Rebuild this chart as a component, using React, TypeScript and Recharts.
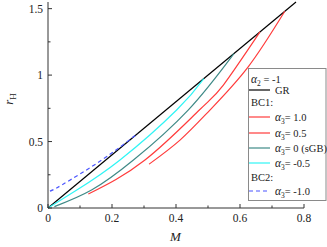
import React from "react";
import { LineChart, Line, XAxis, YAxis } from "recharts";

// GR: r_H = 2M
const grM = [0, 0.775];
const grR = [0, 1.55];

// BC1, alpha3 = 1.0 (outer red)
const a3p10M = [0.316, 0.4125, 0.506, 0.625, 0.74];
const a3p10R = [0.33, 0.511, 0.737, 1.06, 1.48];

// BC1, alpha3 = 0.5 (inner red)
const a3p05M = [0.126, 0.303, 0.473, 0.548, 0.6625];
const a3p05R = [0.105, 0.361, 0.737, 0.925, 1.325];

// BC1, alpha3 = 0 (sGB)
const a3z0M = [0.02, 0.136, 0.267, 0.438, 0.581];
const a3z0R = [0.01, 0.135, 0.361, 0.737, 1.162];

// BC1, alpha3 = -0.5
const a3m05M = [0, 0.09, 0.225, 0.402, 0.487];
const a3m05R = [0, 0.135, 0.361, 0.737, 0.974];

// BC2, alpha3 = -1.0
const bc2M = [0.006, 0.043, 0.168, 0.28];
const bc2R = [0.127, 0.173, 0.361, 0.56];

const xTicks = [0, 0.1, 0.2, 0.3, 0.4, 0.5, 0.6, 0.7, 0.8];
const xLabels = ["0", "", "0.2", "", "0.4", "", "0.6", "", "0.8"];
const yTicks = [0, 0.25, 0.5, 0.75, 1, 1.25, 1.5];
const yLabels = ["0", "", "0.5", "", "1", "", "1.5"];

const pts = (m: number[], r: number[]) => m.map((v, i) => ({ M: v, r: r[i] }));

const RED = "#ff3b3b";
const TEAL = "#3f8a87";
const CYAN = "#2ff5f5";
const BLUE = "#4a55ff";
const AXIS = "#333";
const FONT = "'Liberation Serif', 'Times New Roman', 'DejaVu Serif', serif";
const txt = { fontFamily: FONT };

function labelAt(ticks: number[], labels: string[], v: number) {
  const i = ticks.findIndex((t) => Math.abs(t - v) < 1e-6);
  return i >= 0 ? labels[i] : "";
}

const BottomTick = (p: any) => {
  const lab = labelAt(xTicks, xLabels, p.payload.value);
  return (
    <g>
      <line x1={p.x} x2={p.x} y1={p.y} y2={p.y - (lab ? 4 : 2.5)} stroke={AXIS} />
      {lab && (
        <text x={p.x} y={p.y + 14} textAnchor="middle" fontSize={11.5} fill="#222" style={txt}>
          {lab}
        </text>
      )}
    </g>
  );
};

const TopTick = (p: any) => {
  const lab = labelAt(xTicks, xLabels, p.payload.value);
  return <line x1={p.x} x2={p.x} y1={p.y} y2={p.y + (lab ? 4 : 2.5)} stroke={AXIS} />;
};

const LeftTick = (p: any) => {
  const lab = labelAt(yTicks, yLabels, p.payload.value);
  return (
    <g>
      <line x1={p.x} x2={p.x + (lab ? 4 : 2.5)} y1={p.y} y2={p.y} stroke={AXIS} />
      {lab && (
        <text x={p.x - 5} y={p.y + 4} textAnchor="end" fontSize={11.5} fill="#222" style={txt}>
          {lab}
        </text>
      )}
    </g>
  );
};

const RightTick = (p: any) => {
  const lab = labelAt(yTicks, yLabels, p.payload.value);
  return <line x1={p.x} x2={p.x - (lab ? 4 : 2.5)} y1={p.y} y2={p.y} stroke={AXIS} />;
};

const Alpha = ({ sub, rest }: { sub: string; rest: string }) => (
  <>
    <tspan fontStyle="italic" fontSize={11.5}>α</tspan>
    <tspan fontSize={7.5} dy={3}>{sub}</tspan>
    <tspan dy={-3}>{rest}</tspan>
  </>
);

function LegendBox() {
  const lx1 = 1;
  const lx2 = 22;
  const tx = 27;
  const row = (y: number, color: string, sub: string, rest: string, dash?: string) => (
    <g>
      <line x1={lx1} x2={lx2} y1={y} y2={y} stroke={color} strokeWidth={1.2} strokeDasharray={dash} />
      <text x={tx} y={y + 4} fontSize={10.5} fill="#222" style={txt}>
        <Alpha sub={sub} rest={rest} />
      </text>
    </g>
  );
  return (
    <svg
      width={79}
      height={133}
      style={{ position: "absolute", left: 248, top: 68, overflow: "visible" }}
    >
      <rect x={0.5} y={0.5} width={77.5} height={132} fill="#fff" stroke="#8a8a8a" />
      <text x={3} y={15} fontSize={10.5} fill="#222" style={txt}>
        <Alpha sub="2" rest=" = -1" />
      </text>
      <line x1={lx1} x2={lx2} y1={22} y2={22} stroke="#000" strokeWidth={1.2} />
      <text x={tx} y={26} fontSize={10.5} fill="#222" style={txt}>GR</text>
      <text x={3} y={38} fontSize={10.5} fill="#222" style={txt}>BC1:</text>
      {row(49, RED, "3", "= 1.0")}
      {row(65, RED, "3", "= 0.5")}
      {row(80, TEAL, "3", "= 0 (sGB)")}
      {row(95, CYAN, "3", "= -0.5")}
      <text x={3} y={113} fontSize={10.5} fill="#222" style={txt}>BC2:</text>
      {row(123, BLUE, "3", "= -1.0", "4 3")}
    </svg>
  );
}

export default function App() {
  const series = [
    { d: pts(grM, grR), c: "#000", dash: undefined },
    { d: pts(a3p10M, a3p10R), c: RED, dash: undefined },
    { d: pts(a3p05M, a3p05R), c: RED, dash: undefined },
    { d: pts(a3z0M, a3z0R), c: TEAL, dash: undefined },
    { d: pts(a3m05M, a3m05R), c: CYAN, dash: undefined },
    { d: pts(bc2M, bc2R), c: BLUE, dash: "4 3" },
  ];
  return (
    <div style={{ position: "absolute", left: 0, top: 0, width: 327, height: 247, background: "#fff" }}>
      <LineChart width={327} height={247} margin={{ top: 2, right: 23, bottom: 9, left: 8 }}>
        <XAxis
          xAxisId="b"
          type="number"
          dataKey="M"
          domain={[0, 0.8]}
          ticks={xTicks}
          tick={BottomTick}
          tickLine={false}
          tickSize={0}
          tickMargin={0}
          height={30}
          stroke={AXIS}
          interval={0}
        />
        <XAxis
          xAxisId="t"
          orientation="top"
          type="number"
          dataKey="M"
          domain={[0, 0.8]}
          ticks={xTicks}
          tick={TopTick}
          tickLine={false}
          tickSize={0}
          tickMargin={0}
          height={0}
          stroke={AXIS}
          interval={0}
        />
        <YAxis
          yAxisId="l"
          type="number"
          domain={[0, 1.55]}
          ticks={yTicks}
          tick={LeftTick}
          tickLine={false}
          tickSize={0}
          tickMargin={0}
          width={40}
          stroke={AXIS}
          interval={0}
        />
        <YAxis
          yAxisId="r"
          orientation="right"
          type="number"
          domain={[0, 1.55]}
          ticks={yTicks}
          tick={RightTick}
          tickLine={false}
          tickSize={0}
          tickMargin={0}
          width={0}
          stroke={AXIS}
          interval={0}
        />
        {series.map((s, i) => (
          <Line
            key={i}
            xAxisId="b"
            yAxisId="l"
            data={s.d}
            dataKey="r"
            type="natural"
            stroke={s.c}
            strokeWidth={1.2}
            strokeDasharray={s.dash}
            dot={false}
            activeDot={false}
            isAnimationActive={false}
          />
        ))}
      </LineChart>
      <div
        style={{
          position: "absolute",
          left: 4,
          top: 99,
          transform: "translate(0, -50%) rotate(-90deg)",
          fontFamily: FONT,
          fontSize: 13,
          color: "#222",
          whiteSpace: "nowrap",
        }}
      >
        <i>r</i>
        <span style={{ fontSize: 9, verticalAlign: "-3px" }}>H</span>
      </div>
      <div
        style={{
          position: "absolute",
          left: 170,
          top: 229,
          fontFamily: FONT,
          fontSize: 13,
          fontStyle: "italic",
          color: "#222",
        }}
      >
        M
      </div>
      <LegendBox />
    </div>
  );
}
